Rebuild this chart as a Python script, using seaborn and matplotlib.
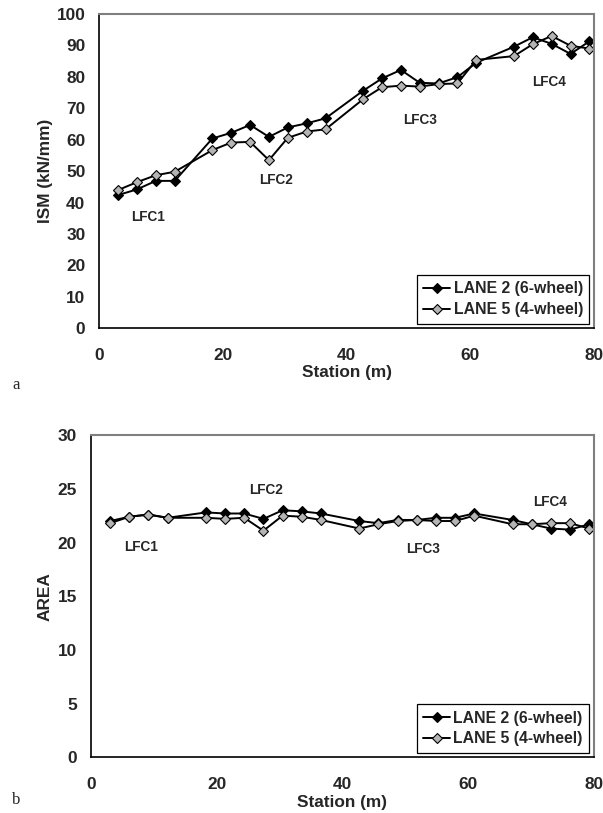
"""
ISM and AREA along the test section, lane 2 vs lane 5
"""
import numpy as np
import pandas as pd
import matplotlib
matplotlib.use("Agg")
import matplotlib.pyplot as plt
import seaborn as sns

# station positions (m), every 10 ft
station = [3.05, 6.10, 9.14, 12.19, 18.29, 21.34, 24.38, 27.43, 30.48, 33.53,
           36.58, 42.67, 45.72, 48.77, 51.82, 54.86, 57.91, 60.96, 67.06,
           70.10, 73.15, 76.20, 79.25]

ism_lane2 = [42.4, 44.2, 46.9, 46.9, 60.4, 62.2, 64.7, 60.9, 63.9, 65.2, 66.8,
             75.6, 79.5, 82.2, 78.1, 77.9, 79.9, 84.5, 89.6, 92.6, 90.5, 87.3,
             91.3]
ism_lane5 = [44.0, 46.5, 48.7, 49.8, 56.7, 59.1, 59.3, 53.5, 60.6, 62.6, 63.3,
             72.9, 76.7, 77.2, 76.9, 77.7, 77.9, 85.4, 86.6, 90.4, 93.0, 89.9,
             89.0]

area_lane2 = [22.0, 22.4, 22.6, 22.3, 22.8, 22.7, 22.7, 22.2, 23.0, 22.9, 22.7,
              22.0, 21.8, 22.1, 22.1, 22.3, 22.3, 22.7, 22.1, 21.7, 21.3, 21.2,
              21.7]
area_lane5 = [21.8, 22.4, 22.6, 22.3, 22.3, 22.2, 22.3, 21.1, 22.5, 22.4, 22.1,
              21.3, 21.7, 22.0, 22.1, 22.0, 22.0, 22.5, 21.7, 21.7, 21.8, 21.8,
              21.3]

series_names = ["LANE 2 (6-wheel)", "LANE 5 (4-wheel)"]
marker_fill = ["black", "#b4b4b4"]

ism_notes = [("LFC1", 7.9, 35.5), ("LFC2", 28.6, 47.2),
             ("LFC3", 51.9, 66.3), ("LFC4", 72.8, 78.5)]
area_notes = [("LFC1", 8.0, 19.6), ("LFC2", 27.8, 24.9),
              ("LFC3", 52.9, 19.4), ("LFC4", 73.0, 23.8)]

sns.set_style("white")
plt.rcParams["font.family"] = ["Liberation Sans", "DejaVu Sans"]
plt.rcParams["font.weight"] = "bold"
plt.rcParams["axes.labelweight"] = "bold"


def draw_panel(ax, lane2, lane5, ylabel, ymax, ystep, notes, label_x):
    df = pd.DataFrame({
        "station": station * 2,
        "value": lane2 + lane5,
        "lane": [series_names[0]] * len(station) + [series_names[1]] * len(station),
    })
    for name, fill in zip(series_names, marker_fill):
        sns.lineplot(data=df[df["lane"] == name], x="station", y="value",
                     ax=ax, color="black", lw=1.4, marker="D", markersize=5.6,
                     markerfacecolor=fill, markeredgecolor="black",
                     markeredgewidth=0.8, label=name)

    for txt, x, y in notes:
        ax.text(x, y, txt, ha="center", va="center", fontsize=9.8,
                fontweight="bold")

    ax.set_xlim(0, 80)
    ax.set_ylim(0, ymax)
    ax.set_xticks(np.arange(0, 81, 20))
    ax.set_yticks(np.arange(0, ymax + 0.1, ystep))
    ax.tick_params(axis="x", direction="inout", length=8, width=1,
                   pad=10, labelsize=12.4)
    ax.tick_params(axis="y", direction="out", length=4, width=1,
                   pad=6, labelsize=12.4)
    ax.xaxis.set_major_formatter(plt.FormatStrFormatter("%d"))
    ax.yaxis.set_major_formatter(plt.FormatStrFormatter("%d"))

    ax.set_xlabel("Station (m)", fontsize=12.4, fontweight="bold")
    ax.set_ylabel(ylabel, fontsize=12.4, fontweight="bold")
    ax.yaxis.label.set_va("center")
    ax.xaxis.set_label_coords(0.5, -0.116)
    ax.yaxis.set_label_coords(label_x, 0.5)

    for side in ["left", "bottom"]:
        ax.spines[side].set_color("black")
        ax.spines[side].set_linewidth(1.2)
    for side in ["top", "right"]:
        ax.spines[side].set_color("#7f7f7f")
        ax.spines[side].set_linewidth(1.5)

    leg = ax.legend(loc="lower right", fontsize=11.4, frameon=True,
                    fancybox=False, framealpha=1, edgecolor="black",
                    handlelength=1.7, handletextpad=0.2,
                    borderaxespad=0.3, borderpad=0.4, labelspacing=0.37)
    leg.get_frame().set_linewidth(0.9)
    for t in leg.get_texts():
        t.set_fontweight("bold")


fig = plt.figure(figsize=(6.03, 8.13), dpi=100)
ax1 = fig.add_axes([0.1647, 0.5962, 0.8204, 0.3866])
ax2 = fig.add_axes([0.1509, 0.0683, 0.8340, 0.3966])

draw_panel(ax1, ism_lane2, ism_lane5, "ISM (kN/mm)", 100, 10, ism_notes, -0.108)
draw_panel(ax2, area_lane2, area_lane5, "AREA", 30, 5, area_notes, -0.091)

fig.text(0.02, 0.527, "a", fontsize=12, fontweight="normal",
         family=["Liberation Serif"], va="center")
fig.text(0.02, 0.016, "b", fontsize=12, fontweight="normal",
         family=["Liberation Serif"], va="center")

fig.savefig("out.png", dpi=100)
